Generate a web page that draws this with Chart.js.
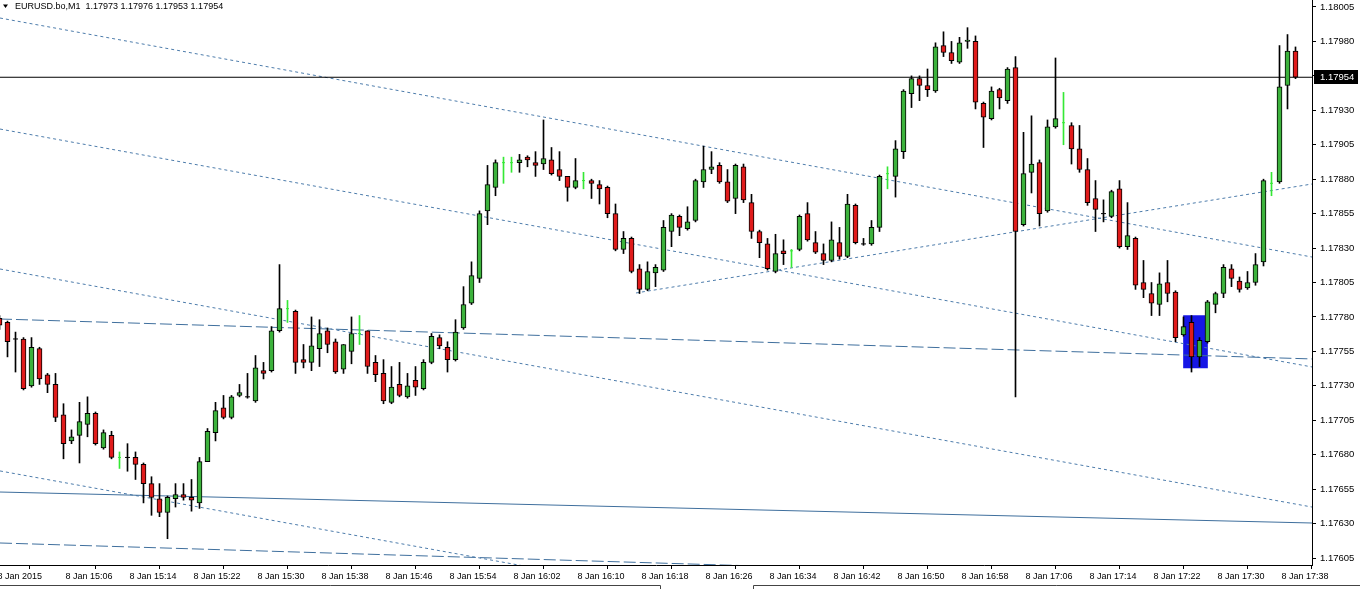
<!DOCTYPE html>
<html><head><meta charset="utf-8">
<script src="https://cdn.jsdelivr.net/npm/chart.js@4.4.1/dist/chart.umd.min.js"></script>
<style>html,body{margin:0;padding:0;background:#fff;overflow:hidden}canvas{display:block}</style>
</head><body>
<canvas id="c" width="1360" height="589"></canvas>
<script>
// ---- data (EURUSD M1, 8 Jan 2015, bars 14:58 .. 17:40) ----
const symbolName = 'EURUSD.bo,M1';
const firstBar = -1; // index of the 14:58 bar (15:06 is index 7)
const opens = [1.17779,1.17776,1.17764,1.17764,1.17730,1.17757,1.17738,1.17731,1.17709,1.17690,1.17694,1.17702,1.17710,1.17685,1.17694,1.17678,1.17678,1.17678,1.17673,1.17659,1.17648,1.17638,1.17648,1.17651,1.17649,1.17645,1.17675,1.17696,1.17714,1.17707,1.17723,1.17722,1.17719,1.17741,1.17741,1.17770,1.17786,1.17784,1.17749,1.17747,1.17757,1.17770,1.17762,1.17742,1.17755,1.17768,1.17770,1.17747,1.17739,1.17718,1.17731,1.17722,1.17734,1.17728,1.17747,1.17765,1.17758,1.17749,1.17772,1.17790,1.17808,1.17857,1.17874,1.17892,1.17892,1.17892,1.17896,1.17892,1.17891,1.17894,1.17887,1.17882,1.17874,1.17879,1.17879,1.17876,1.17874,1.17855,1.17829,1.17837,1.17815,1.17800,1.17812,1.17814,1.17842,1.17853,1.17844,1.17850,1.17878,1.17887,1.17890,1.17878,1.17866,1.17889,1.17863,1.17842,1.17833,1.17813,1.17828,1.17828,1.17829,1.17855,1.17834,1.17826,1.17821,1.17834,1.17824,1.17861,1.17833,1.17833,1.17845,1.17884,1.17882,1.17900,1.17942,1.17953,1.17948,1.17944,1.17977,1.17972,1.17965,1.17980,1.17980,1.17935,1.17924,1.17945,1.17937,1.17961,1.17847,1.17885,1.17892,1.17857,1.17918,1.17921,1.17919,1.17902,1.17887,1.17866,1.17855,1.17853,1.17873,1.17831,1.17837,1.17805,1.17797,1.17789,1.17805,1.17798,1.17767,1.17776,1.17751,1.17762,1.17789,1.17797,1.17815,1.17806,1.17801,1.17805,1.17820,1.17877,1.17878,1.17948,1.17973];
const highs = [1.17781,1.17777,1.17769,1.17765,1.17765,1.17758,1.17739,1.17739,1.17717,1.17698,1.17718,1.17722,1.17711,1.17698,1.17697,1.17682,1.17688,1.17682,1.17674,1.17664,1.17659,1.17650,1.17659,1.17659,1.17662,1.17678,1.17699,1.17718,1.17723,1.17723,1.17731,1.17739,1.17752,1.17747,1.17773,1.17818,1.17792,1.17785,1.17760,1.17780,1.17778,1.17772,1.17764,1.17760,1.17780,1.17781,1.17770,1.17752,1.17749,1.17744,1.17747,1.17739,1.17744,1.17749,1.17768,1.17767,1.17762,1.17778,1.17802,1.17820,1.17857,1.17890,1.17894,1.17896,1.17896,1.17898,1.17897,1.17900,1.17923,1.17903,1.17900,1.17882,1.17895,1.17885,1.17880,1.17879,1.17875,1.17862,1.17842,1.17838,1.17818,1.17820,1.17818,1.17850,1.17855,1.17854,1.17860,1.17880,1.17904,1.17900,1.17892,1.17887,1.17891,1.17891,1.17869,1.17843,1.17837,1.17840,1.17836,1.17829,1.17854,1.17863,1.17842,1.17833,1.17849,1.17845,1.17869,1.17862,1.17837,1.17850,1.17883,1.17889,1.17908,1.17945,1.17955,1.17955,1.17960,1.17979,1.17987,1.17980,1.17983,1.17990,1.17984,1.17936,1.17947,1.17946,1.17961,1.17969,1.17914,1.17926,1.17894,1.17923,1.17968,1.17943,1.17921,1.17919,1.17895,1.17879,1.17865,1.17872,1.17879,1.17863,1.17838,1.17821,1.17805,1.17812,1.17821,1.17799,1.17780,1.17781,1.17765,1.17792,1.17798,1.17818,1.17818,1.17809,1.17813,1.17826,1.17880,1.17885,1.17977,1.17985,1.17976];
const lows = [1.17771,1.17751,1.17740,1.17727,1.17729,1.17731,1.17725,1.17704,1.17677,1.17688,1.17674,1.17693,1.17687,1.17684,1.17677,1.17670,1.17668,1.17662,1.17645,1.17636,1.17635,1.17619,1.17642,1.17647,1.17639,1.17641,1.17675,1.17690,1.17706,1.17706,1.17722,1.17721,1.17718,1.17735,1.17740,1.17769,1.17776,1.17739,1.17743,1.17741,1.17744,1.17754,1.17739,1.17739,1.17746,1.17760,1.17739,1.17733,1.17717,1.17717,1.17722,1.17721,1.17723,1.17727,1.17746,1.17757,1.17740,1.17748,1.17771,1.17789,1.17805,1.17847,1.17868,1.17877,1.17885,1.17885,1.17889,1.17882,1.17887,1.17883,1.17879,1.17864,1.17873,1.17873,1.17866,1.17862,1.17852,1.17828,1.17826,1.17812,1.17797,1.17799,1.17802,1.17813,1.17831,1.17839,1.17843,1.17849,1.17874,1.17884,1.17877,1.17863,1.17855,1.17863,1.17837,1.17823,1.17814,1.17812,1.17818,1.17816,1.17828,1.17835,1.17826,1.17818,1.17820,1.17822,1.17823,1.17833,1.17832,1.17832,1.17842,1.17873,1.17867,1.17895,1.17932,1.17937,1.17940,1.17943,1.17969,1.17964,1.17964,1.17975,1.17931,1.17903,1.17923,1.17931,1.17935,1.17722,1.17846,1.17870,1.17846,1.17856,1.17917,1.17905,1.17891,1.17885,1.17861,1.17842,1.17849,1.17852,1.17830,1.17829,1.17800,1.17794,1.17781,1.17781,1.17791,1.17762,1.17766,1.17740,1.17744,1.17761,1.17783,1.17794,1.17802,1.17798,1.17800,1.17803,1.17817,1.17868,1.17877,1.17931,1.17953];
const closes = [1.17774,1.17762,1.17764,1.17728,1.17758,1.17735,1.17731,1.17707,1.17688,1.17693,1.17704,1.17710,1.17688,1.17696,1.17678,1.17678,1.17678,1.17673,1.17659,1.17649,1.17638,1.17649,1.17651,1.17649,1.17647,1.17675,1.17697,1.17712,1.17707,1.17722,1.17725,1.17722,1.17743,1.17739,1.17770,1.17786,1.17786,1.17747,1.17747,1.17759,1.17768,1.17760,1.17740,1.17760,1.17768,1.17768,1.17744,1.17738,1.17719,1.17729,1.17723,1.17730,1.17729,1.17747,1.17766,1.17759,1.17749,1.17769,1.17789,1.17810,1.17855,1.17876,1.17892,1.17892,1.17892,1.17894,1.17894,1.17890,1.17895,1.17884,1.17882,1.17874,1.17879,1.17879,1.17877,1.17873,1.17855,1.17829,1.17837,1.17813,1.17800,1.17813,1.17816,1.17845,1.17854,1.17845,1.17849,1.17879,1.17887,1.17889,1.17878,1.17864,1.17890,1.17865,1.17842,1.17834,1.17815,1.17826,1.17826,1.17828,1.17853,1.17836,1.17827,1.17821,1.17836,1.17824,1.17862,1.17834,1.17833,1.17845,1.17882,1.17884,1.17902,1.17944,1.17953,1.17948,1.17945,1.17976,1.17972,1.17966,1.17979,1.17981,1.17936,1.17925,1.17944,1.17939,1.17960,1.17842,1.17884,1.17891,1.17855,1.17918,1.17924,1.17921,1.17902,1.17887,1.17863,1.17858,1.17855,1.17871,1.17831,1.17839,1.17803,1.17800,1.17790,1.17804,1.17797,1.17765,1.17773,1.17751,1.17763,1.17791,1.17797,1.17816,1.17808,1.17800,1.17805,1.17818,1.17879,1.17877,1.17947,1.17973,1.17954];
const limeDoji = [14,35,44,62,63,72,98,110,132,158]; // bar indices drawn as lime crosses

const xTickIndex  = [-1.5,7,15,23,31,39,47,55,63,71,79,87,95,103,111,119,127,135,143,151,159];
const xTickLabels = ['8 Jan 2015','8 Jan 15:06','8 Jan 15:14','8 Jan 15:22','8 Jan 15:30','8 Jan 15:38','8 Jan 15:46','8 Jan 15:54','8 Jan 16:02','8 Jan 16:10','8 Jan 16:18','8 Jan 16:26','8 Jan 16:34','8 Jan 16:42','8 Jan 16:50','8 Jan 16:58','8 Jan 17:06','8 Jan 17:14','8 Jan 17:22','8 Jan 17:30','8 Jan 17:38'];
const yTicks = [1.17605,1.17630,1.17655,1.17680,1.17705,1.17730,1.17755,1.17780,1.17805,1.17830,1.17855,1.17880,1.17905,1.17930,1.17955,1.17980,1.18005];
const yRange = [1.1759992, 1.1801008];
const xRange = [-0.9375, 163.0625];
const lastPrice = 1.17954;
const boxX = [147, 150];
const boxY = [1.17743, 1.17781];

// trend lines: [[x0,p0],[x1,p1]]
const lineA = [[-0.9375,1.179970],[163.0625,1.178235]];
const lineB = [[78.56,1.177974],[163.0625,1.178765]];
const lineC = [[-0.9375,1.179164],[163.0625,1.177437]];
const lineD = [[-0.9375,1.177785],[163.0625,1.177495]];
const lineE = [[-0.9375,1.178148],[163.0625,1.176420]];
const lineF = [[-0.9375,1.176529],[163.0625,1.176304]];
const lineG = [[-0.9375,1.176682],[163.0625,1.174954]];
const lineH = [[-0.9375,1.176159],[163.0625,1.175869]];

// ---- styles ----
const RED = '#e01b1b', GREEN = '#3cb23c', LIME = '#35e835';
const DOT = [3,3], DASH = [12,4];
const LCOL = '#4d7cab', LCOL2 = '#3f6f9d';
const FONT = 'Liberation Sans, Arial, sans-serif';

const bodyData=[], bodyColors=[], wickData=[], wickColors=[], dojiData=[], dojiColors=[], dojiR=[];
opens.forEach((o,i)=>{
  const k = firstBar + i, c = closes[i];
  const lime = limeDoji.includes(k);
  wickData.push({x:k, y:[lows[i], highs[i]]});
  wickColors.push(lime ? LIME : '#000');
  if (o === c) { dojiData.push({x:k, y:o}); dojiColors.push(lime?LIME:'#000'); dojiR.push(lime?1.5:2.5); }
  else { bodyData.push({x:k, y:[o,c]}); bodyColors.push(c>o?GREEN:RED); }
});
const toPts = l => l.map(p=>({x:p[0], y:p[1]}));
const trend = (l, dash, col, ord) => ({type:'line', data:toPts(l), borderColor:col, borderWidth:1, borderDash:dash, pointRadius:0, tension:0, order:ord, fill:false});
const noPad = s => { s.paddingTop = 0; s.paddingBottom = 0; s.paddingLeft = 0; s.paddingRight = 0; };

const overlay = {
  id:'overlay',
  afterDraw(chart){
    const ctx = chart.ctx, ys = chart.scales.y;
    ctx.save();
    // header
    ctx.fillStyle = '#000';
    ctx.beginPath(); ctx.moveTo(3,4.5); ctx.lineTo(8,4.5); ctx.lineTo(5.5,8); ctx.closePath(); ctx.fill();
    ctx.font = '9px ' + FONT; ctx.textBaseline = 'middle'; ctx.textAlign = 'left';
    const n = opens.length - 1;
    const hdr = symbolName + '  ' + [opens[n],highs[n],lows[n],closes[n]].map(v=>v.toFixed(5)).join(' ');
    ctx.fillText(hdr, 15, 7);
    // last price label
    const py = Math.round(ys.getPixelForValue(lastPrice));
    ctx.font = '9.5px ' + FONT;
    ctx.fillStyle = '#000'; ctx.fillRect(1314, py-7, 44, 14);
    ctx.fillStyle = '#fff'; ctx.fillText(lastPrice.toFixed(5), 1320, py+0.5);
    // bottom tab bar edges
    ctx.strokeStyle = '#444'; ctx.lineWidth = 1;
    ctx.beginPath();
    ctx.moveTo(0,585.5); ctx.lineTo(660.5,585.5); ctx.lineTo(660.5,589);
    ctx.moveTo(753.5,589); ctx.lineTo(753.5,585.5); ctx.lineTo(1360,585.5);
    ctx.stroke();
    ctx.restore();
  }
};

new Chart(document.getElementById('c'), {
  type:'bar',
  data:{ datasets:[
    {type:'bar', data:[{x:(boxX[0]+boxX[1])/2, y:boxY}], backgroundColor:'#1616e6', barThickness:24, grouped:false, borderWidth:0, order:20},
    trend(lineA, DOT, LCOL, 10), trend(lineB, DOT, LCOL, 10), trend(lineC, DOT, LCOL, 10),
    trend(lineD, DASH, LCOL2, 10), trend(lineE, DOT, LCOL, 10), trend(lineF, [], LCOL2, 10),
    trend(lineG, DOT, LCOL, 10), trend(lineH, DASH, LCOL2, 10),
    {type:'line', data:[{x:xRange[0], y:lastPrice},{x:xRange[1], y:lastPrice}], borderColor:'#000', borderWidth:1, pointRadius:0, order:9},
    {type:'bar', data:wickData, backgroundColor:wickColors, barThickness:1, grouped:false, borderWidth:0, order:3},
    {type:'bar', data:bodyData, backgroundColor:bodyColors, borderColor:'#000', borderWidth:1, borderSkipped:false, barThickness:5, grouped:false, order:2},
    {type:'line', data:dojiData, showLine:false, pointStyle:'line', pointRadius:dojiR, pointBorderColor:dojiColors, pointBorderWidth:1, pointBackgroundColor:dojiColors, order:1}
  ]},
  options:{
    responsive:false, animation:false, devicePixelRatio:1, events:[],
    layout:{padding:0, autoPadding:false},
    plugins:{legend:{display:false}, tooltip:{enabled:false}, title:{display:false}},
    scales:{
      x:{type:'linear', position:'bottom', min:xRange[0], max:xRange[1], offset:false,
         grid:{drawOnChartArea:false, drawTicks:true, tickLength:4, color:'#000'},
         border:{display:true, color:'#000'},
         ticks:{autoSkip:false, maxRotation:0, minRotation:0, align:'start', labelOffset:2, padding:2, color:'#000', font:{family:FONT, size:9},
                callback:(v,i)=>xTickLabels[i]},
         afterBuildTicks:s=>{ s.ticks = xTickIndex.map(v=>({value:v})); },
         afterFit:s=>{ s.height = 24; noPad(s); }},
      y:{type:'linear', position:'right', min:yRange[0], max:yRange[1],
         grid:{drawOnChartArea:false, drawTicks:true, tickLength:4, color:'#000'},
         border:{display:true, color:'#000'},
         ticks:{autoSkip:false, padding:4, color:'#000', font:{family:FONT, size:9.5}, callback:v=>Number(v).toFixed(5)},
         afterBuildTicks:s=>{ s.ticks = yTicks.map(v=>({value:v})); },
         afterFit:s=>{ s.width = 48; noPad(s); }}
    }
  },
  plugins:[overlay]
});
</script>
</body></html>
